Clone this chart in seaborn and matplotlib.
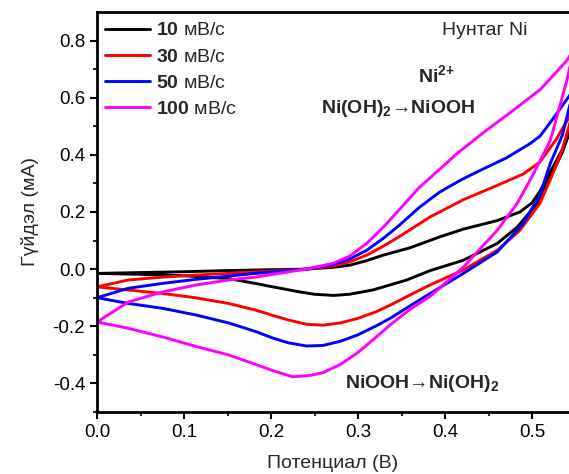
import matplotlib
matplotlib.use('Agg')

import matplotlib.pyplot as plt
import seaborn as sns
import pandas as pd

# scan rates and legend labels
rates = ['10', '30', '50', '100']
colors = ['#000000', '#ff0000', '#0000ff', '#ff00ff']

# each loop: anodic branch (0 -> vertex) then cathodic branch (vertex -> 0)
e_10 = [0.0, 0.05, 0.10, 0.15, 0.20, 0.24, 0.27, 0.291, 0.31, 0.329, 0.36, 0.394, 0.421, 0.46, 0.486, 0.50,
        0.509, 0.521, 0.535, 0.548,
        0.535, 0.521, 0.506, 0.483, 0.46, 0.421, 0.383, 0.356, 0.317, 0.29, 0.272, 0.25, 0.23, 0.202, 0.182,
        0.151, 0.10, 0.05, 0.0]
i_10 = [-0.015, -0.012, -0.009, -0.005, -0.002, 0.0, 0.006, 0.014, 0.03, 0.049, 0.075, 0.113, 0.140, 0.170, 0.200, 0.232,
        0.272, 0.340, 0.42, 0.52,
        0.41, 0.32, 0.23, 0.147, 0.09, 0.031, -0.005, -0.038, -0.073, -0.088, -0.092, -0.088, -0.078, -0.062, -0.05,
        -0.033, -0.023, -0.018, -0.015]

e_30 = [0.0, 0.036, 0.075, 0.113, 0.182, 0.24, 0.27, 0.29, 0.31, 0.33, 0.348, 0.383, 0.421, 0.46, 0.49, 0.509, 0.528, 0.548,
        0.535, 0.524, 0.509, 0.486, 0.46, 0.421, 0.383, 0.36, 0.337, 0.32, 0.299, 0.28, 0.26, 0.241, 0.22, 0.202, 0.182,
        0.151, 0.113, 0.075, 0.036, 0.0]
i_30 = [-0.062, -0.038, -0.028, -0.021, -0.01, 0.0, 0.01, 0.025, 0.049, 0.082, 0.115, 0.183, 0.243, 0.293, 0.333, 0.375,
        0.455, 0.56,
        0.42, 0.335, 0.23, 0.136, 0.066, -0.003, -0.055, -0.09, -0.126, -0.15, -0.173, -0.188, -0.196, -0.193, -0.178,
        -0.162, -0.143, -0.12, -0.10, -0.085, -0.073, -0.062]

e_50 = [0.0, 0.036, 0.075, 0.113, 0.182, 0.24, 0.271, 0.29, 0.31, 0.33, 0.348, 0.37, 0.394, 0.42, 0.44, 0.471, 0.498, 0.509,
        0.525, 0.5425, 0.548,
        0.535, 0.521, 0.509, 0.49, 0.46, 0.421, 0.383, 0.36, 0.337, 0.32, 0.299, 0.28, 0.26, 0.241, 0.22, 0.202, 0.182,
        0.151, 0.113, 0.075, 0.036, 0.0]
i_50 = [-0.10, -0.067, -0.05, -0.036, -0.015, 0.0, 0.015, 0.035, 0.066, 0.11, 0.155, 0.215, 0.27, 0.315, 0.345, 0.39, 0.44,
        0.465, 0.53, 0.605, 0.63,
        0.47, 0.37, 0.26, 0.16, 0.06, -0.015, -0.085, -0.128, -0.172, -0.2, -0.231, -0.252, -0.267, -0.269, -0.258,
        -0.241, -0.218, -0.188, -0.16, -0.137, -0.12, -0.10]

e_100 = [0.0, 0.036, 0.075, 0.113, 0.151, 0.182, 0.24, 0.271, 0.29, 0.31, 0.33, 0.348, 0.37, 0.394, 0.414, 0.445, 0.478,
         0.51, 0.54, 0.548,
         0.54, 0.521, 0.501, 0.483, 0.46, 0.421, 0.394, 0.383, 0.36, 0.337, 0.32, 0.299, 0.28, 0.26, 0.245, 0.225,
         0.202, 0.182, 0.151, 0.113, 0.075, 0.036, 0.0]
i_100 = [-0.185, -0.115, -0.08, -0.056, -0.038, -0.028, 0.0, 0.02, 0.045, 0.09, 0.15, 0.21, 0.285, 0.35, 0.405, 0.48, 0.555,
         0.63, 0.73, 0.77,
         0.66, 0.45, 0.33, 0.23, 0.136, 0.007, -0.066, -0.095, -0.14, -0.195, -0.24, -0.294, -0.333, -0.362, -0.372,
         -0.377, -0.355, -0.333, -0.30, -0.27, -0.237, -0.207, -0.185]

labels = [r'$\mathbf{' + r + r'}$ мВ/с' for r in rates]
frames = []
for label, e, i in zip(labels, [e_10, e_30, e_50, e_100], [i_10, i_30, i_50, i_100]):
    frames.append(pd.DataFrame({'E': e, 'I': i, 'rate': label}))
df = pd.concat(frames, ignore_index=True)

sns.set_style('ticks')
plt.rcParams['font.family'] = ['Liberation Sans', 'DejaVu Sans']
plt.rcParams['mathtext.fontset'] = 'custom'
plt.rcParams['mathtext.rm'] = 'Liberation Sans'
plt.rcParams['mathtext.bf'] = 'Liberation Sans:bold'
plt.rcParams['mathtext.it'] = 'Liberation Sans:italic'

fig = plt.figure(figsize=(5.69, 4.74), dpi=100)
ax = fig.add_axes([97 / 569, 1 - 412 / 474, 472 / 569, 400 / 474])

sns.lineplot(data=df, x='E', y='I', hue='rate', hue_order=labels, palette=colors,
             sort=False, estimator=None, units='rate', linewidth=2.1, ax=ax)

ax.set_xlim(0, 0.5425)
ax.set_ylim(-0.5, 0.9)
ax.set_xticks([0.0, 0.1, 0.2, 0.3, 0.4, 0.5])
ax.set_xticks([0.05, 0.15, 0.25, 0.35, 0.45], minor=True)
ax.set_yticks([-0.4, -0.2, 0.0, 0.2, 0.4, 0.6, 0.8])
ax.set_yticks([-0.5, -0.3, -0.1, 0.1, 0.3, 0.5, 0.7], minor=True)
ax.set_xticklabels(['0.0', '0.1', '0.2', '0.3', '0.4', '0.5'])
ax.set_yticklabels(['-0.4', '-0.2', '0.0', '0.2', '0.4', '0.6', '0.8'])
ax.tick_params(which='major', direction='out', length=5, width=1.5, labelsize=13.5, colors='black')
ax.tick_params(which='minor', direction='out', length=3, width=1.5)
for side in ['left', 'bottom', 'top']:
    ax.spines[side].set_linewidth(2)
    ax.spines[side].set_color('black')
ax.spines['right'].set_visible(False)

ax.set_xlabel('Потенциал (В)', fontsize=14, labelpad=10)
ax.set_ylabel('Гүйдэл (мА)', fontsize=14, labelpad=10)

ax.legend(loc='upper left', frameon=False, fontsize=14, handlelength=2.3, handletextpad=0.36,
          labelspacing=0.44, borderaxespad=0.0, bbox_to_anchor=(0.0, 0.995))

ax.text(0.397, 0.835, 'Нунтаг Ni', fontsize=14, va='center', ha='left')
ax.text(0.369, 0.68, r'$\mathbf{Ni}^{\mathbf{2{+}}}$', fontsize=14, va='center', ha='left')
ax.text(0.257, 0.563, r'Ni(OH)$_\mathbf{2}$→NiOOH', fontsize=14, fontweight='bold', va='center', ha='left')
ax.text(0.285, -0.40, r'NiOOH→Ni(OH)$_\mathbf{2}$', fontsize=14, fontweight='bold', va='center', ha='left')

fig.savefig('out.png', dpi=100)
